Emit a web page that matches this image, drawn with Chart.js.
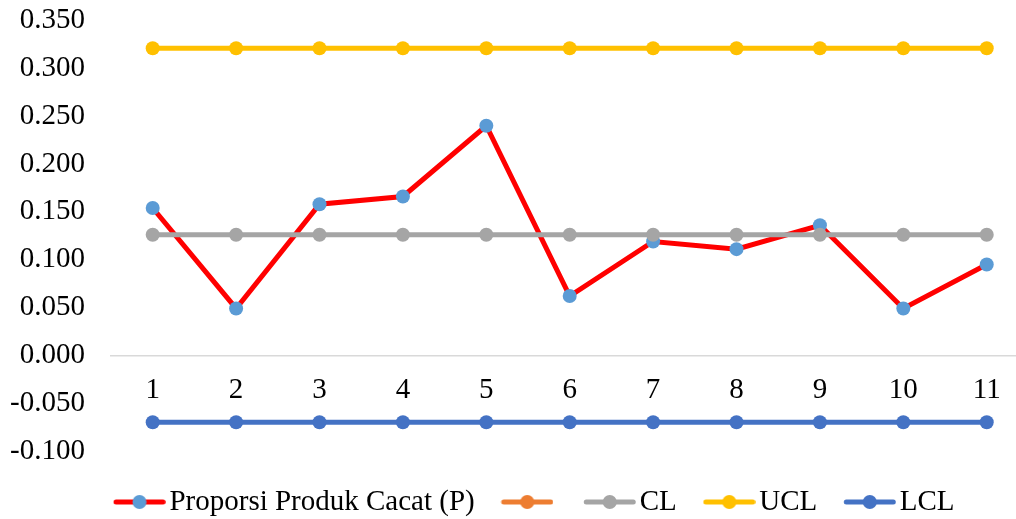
<!DOCTYPE html>
<html>
<head>
<meta charset="utf-8">
<script src="https://cdn.jsdelivr.net/npm/chart.js@4.4.1/dist/chart.umd.min.js"></script>
<style>
  body { margin: 0; background: #fff; }
  canvas { display: block; }
</style>
</head>
<body>
<canvas id="pChart" width="1016" height="519"></canvas>
<script>
// sample number (subgroup)
const categories = ['1', '2', '3', '4', '5', '6', '7', '8', '9', '10', '11'];
// proportion of defective products per sample
const proporsiCacat = [0.154, 0.049, 0.158, 0.166, 0.240, 0.062, 0.119, 0.111, 0.136, 0.049, 0.095];
const seriesKosong = [];
const clValues = [0.126, 0.126, 0.126, 0.126, 0.126, 0.126, 0.126, 0.126, 0.126, 0.126, 0.126];
const uclValues = [0.321, 0.321, 0.321, 0.321, 0.321, 0.321, 0.321, 0.321, 0.321, 0.321, 0.321];
const lclValues = [-0.070, -0.070, -0.070, -0.070, -0.070, -0.070, -0.070, -0.070, -0.070, -0.070, -0.070];
const seriesLabels = ['Proporsi Produk Cacat (P)', '', 'CL', 'UCL', 'LCL'];

const FONT = "'Liberation Serif', 'Times New Roman', serif";

// pair each value with its sample number so the x axis can run a bit past sample 11
const toPoints = (arr) => arr.map((v, i) => ({ x: Number(categories[i]), y: v }));

// line + dot marker for legend (like Excel), shifted left a bit inside the image
function legendMarker(lineColor, dotColor) {
    const c = document.createElement('canvas');
    c.width = 53; c.height = 16;
    const g = c.getContext('2d');
    g.strokeStyle = lineColor;
    g.lineWidth = 5;
    g.lineCap = 'round';
    g.beginPath(); g.moveTo(3.25, 8); g.lineTo(50.25, 8); g.stroke();
    g.fillStyle = dotColor;
    g.beginPath(); g.arc(26.75, 8, 7, 0, Math.PI * 2); g.fill();
    return c;
}

function lineSet(label, data, lineColor, dotColor, order) {
    return {
        label: label,
        data: toPoints(data),
        borderColor: lineColor,
        backgroundColor: dotColor,
        pointBackgroundColor: dotColor,
        pointBorderWidth: 0,
        pointRadius: 7,
        pointHoverRadius: 7,
        borderWidth: 5,
        tension: 0,
        order: order,
        marker: legendMarker(lineColor, dotColor)
    };
}

const ctx = document.getElementById('pChart').getContext('2d');
new Chart(ctx, {
    type: 'line',
    data: {
        datasets: [
            lineSet(seriesLabels[0], proporsiCacat, '#FF0000', '#5B9BD5', 5),
            lineSet(seriesLabels[1], seriesKosong, '#ED7D31', '#ED7D31', 4),
            lineSet(seriesLabels[2], clValues, '#A5A5A5', '#A5A5A5', 3),
            lineSet(seriesLabels[3], uclValues, '#FFC000', '#FFC000', 2),
            lineSet(seriesLabels[4], lclValues, '#4472C4', '#4472C4', 1)
        ]
    },
    options: {
        responsive: false,
        animation: false,
        devicePixelRatio: 1,
        layout: { autoPadding: false, padding: { top: 20.5, left: 62, right: 0, bottom: -7.5 } },
        scales: {
            x: {
                type: 'linear',
                position: { y: 0 },
                min: 0.5,
                max: 11.351,
                grid: { display: false, drawTicks: false },
                border: { display: true, color: '#D9D9D9', width: 1.5 },
                afterFit: (scale) => { scale.paddingLeft = 0; scale.paddingRight = 0; },
                ticks: {
                    stepSize: 1,
                    includeBounds: false,
                    color: '#000',
                    padding: 18,
                    autoSkip: false,
                    maxRotation: 0,
                    font: { family: FONT, size: 29 },
                    callback: (v) => categories[v - 1]
                }
            },
            y: {
                min: -0.1,
                max: 0.35,
                grid: { display: false, drawTicks: false },
                border: { display: false },
                afterFit: (scale) => {
                    scale.width = 49;
                    scale.paddingTop = 0;
                    scale.paddingBottom = 0;
                },
                ticks: {
                    stepSize: 0.05,
                    mirror: true,
                    crossAlign: 'far',
                    color: '#000',
                    padding: -100.9,
                    font: { family: FONT, size: 29 },
                    callback: (v) => (Math.abs(v) < 1e-9 ? 0 : v).toFixed(3)
                }
            }
        },
        plugins: {
            tooltip: { enabled: false },
            legend: {
                position: 'bottom',
                labels: {
                    usePointStyle: true,
                    pointStyleWidth: 31.5,
                    padding: 36.5,
                    color: '#000',
                    font: { family: FONT, size: 29 },
                    generateLabels: (chart) => chart.data.datasets.map((ds, i) => ({
                        text: ds.label,
                        datasetIndex: i,
                        pointStyle: ds.marker,
                        fillStyle: ds.backgroundColor,
                        strokeStyle: ds.borderColor,
                        lineWidth: 0,
                        fontColor: '#000',
                        hidden: false
                    }))
                }
            }
        }
    }
});
</script>
</body>
</html>
